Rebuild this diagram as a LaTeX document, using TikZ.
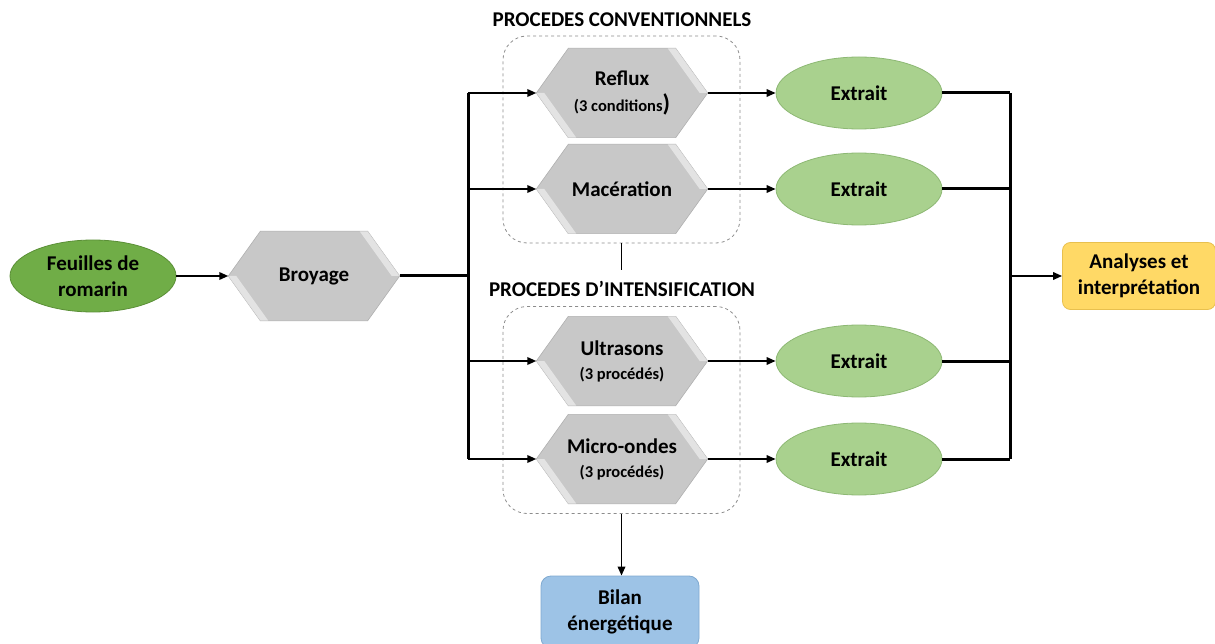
\documentclass[tikz,border=0pt]{standalone}
\usepackage{fontspec}
\setmainfont{Carlito}
\usetikzlibrary{arrows.meta,shapes.geometric,backgrounds}
\definecolor{hexgray}{HTML}{C8C8C8}
\definecolor{hexedge}{HTML}{B0B0B0}
\definecolor{leafgreen}{HTML}{70AD47}
\definecolor{leafedge}{HTML}{5A8F36}
\definecolor{extgreen}{HTML}{A9D18E}
\definecolor{extedge}{HTML}{8DB874}
\definecolor{anayellow}{HTML}{FFD966}
\definecolor{anaedge}{HTML}{E8C04E}
\definecolor{bilblue}{HTML}{9DC3E6}
\definecolor{biledge}{HTML}{7FA9D0}
\definecolor{dashgray}{HTML}{8C8C8C}
\newcommand\hexbg[1]{%
  \fill[hexgray, draw=hexedge, line width=0.6pt] (#1.west) -- ([xshift=32pt]#1.north west) -- ([xshift=-32pt]#1.north east) -- (#1.east) -- ([xshift=-32pt]#1.south east) -- ([xshift=32pt]#1.south west) -- cycle;
  \fill[white, opacity=0.5] ([xshift=-32pt]#1.north east) -- (#1.east) -- ([xshift=-8pt]#1.east) -- ([xshift=-40pt]#1.north east) -- cycle;
  \fill[white, opacity=0.5] ([xshift=32pt]#1.south west) -- (#1.west) -- ([xshift=8pt]#1.west) -- ([xshift=40pt]#1.south west) -- cycle;}
\begin{document}
\begin{tikzpicture}[x=1pt,y=-1pt,
  txt/.style={font=\bfseries\fontsize{21}{26}\selectfont, align=center, inner sep=0pt, text=black},
  hexnode/.style={txt, minimum width=171pt, minimum height=89pt},
  leaf/.style={txt, ellipse, fill=leafgreen, draw=leafedge, line width=0.8pt, minimum width=166pt, minimum height=72pt},
  extr/.style={txt, ellipse, fill=extgreen, draw=extedge, line width=0.8pt, minimum width=166pt, minimum height=72pt},
  anabox/.style={txt, rounded corners=8pt, fill=anayellow, draw=anaedge, line width=0.8pt, minimum width=153pt, minimum height=67pt},
  bilbox/.style={txt, rounded corners=10pt, fill=bilblue, draw=biledge, line width=0.8pt, minimum width=158pt, minimum height=72pt},
  groupbox/.style={draw=dashgray, dashed, line width=0.8pt, rounded corners=24pt, minimum width=237pt, minimum height=207pt, inner sep=0pt},
  title/.style={txt},
  arr/.style={line width=1.8pt, -{Triangle[length=9pt,width=7.5pt]}},
  trunk/.style={line width=3pt}
]
\useasboundingbox (0,0) rectangle (1215,644);

% group boxes
\node[groupbox] (box1) at (621.5,139.5) {};
\node[groupbox] (box2) at (621.5,410) {};
\node[title] (t1) at (622,20) {PROCEDES CONVENTIONNELS};
\node[title] (t2) at (622,289) {PROCEDES D’INTENSIFICATION};

% nodes
\node[leaf] (feu) at (93,276) {Feuilles de\\romarin};
\node[hexnode] (broy) at (314,276) {Broyage};
\node[hexnode] (reflux) at (622,93) {Reflux\\[0pt]{\fontsize{16.5}{18}\selectfont (3 conditions}{\fontsize{24}{22}\selectfont )}};
\node[hexnode] (mac) at (622,189) {Macération};
\node[hexnode] (ultra) at (622,361) {Ultrasons\\[-2pt]{\fontsize{16.5}{18}\selectfont (3 procédés)}};
\node[hexnode] (micro) at (622,459) {Micro-ondes\\[-2pt]{\fontsize{16.5}{18}\selectfont (3 procédés)}};
\node[extr] (e1) at (859,93) {Extrait};
\node[extr] (e2) at (859,189) {Extrait};
\node[extr] (e3) at (859,361) {Extrait};
\node[extr] (e4) at (859,459) {Extrait};
\node[anabox] (ana) at (1139,276) {Analyses et\\interprétation};
\node[bilbox] (bil) at (620,612) {Bilan\\énergétique};

\begin{pgfonlayer}{background}
\hexbg{broy}
\hexbg{reflux}
\hexbg{mac}
\hexbg{ultra}
\hexbg{micro}
\end{pgfonlayer}

\coordinate (jl) at (468,276);
\coordinate (jr) at (1010,276);
\coordinate (stub) at (621.5,270);

% connectors
\draw[arr] (feu.east) -- (broy.west);
\draw[trunk] (broy.east) -- (jl);
\draw[trunk] (reflux.west -| jl) -- (micro.west -| jl);
\foreach \n in {reflux,mac,ultra,micro} {
  \draw[arr] (\n.west -| jl) -- (\n.west);
}
\draw[arr] (reflux.east) -- (e1.west);
\draw[arr] (mac.east) -- (e2.west);
\draw[arr] (ultra.east) -- (e3.west);
\draw[arr] (micro.east) -- (e4.west);
\foreach \n in {e1,e2,e3,e4} {
  \draw[trunk] (\n.east) -- (\n.east -| jr);
}
\draw[trunk] (e1.east -| jr) -- (e4.east -| jr);
\draw[arr] (jr) -- (ana.west);
\draw[line width=1.8pt] (box1.south) -- (stub);
\draw[arr] (box2.south) -- (box2.south |- bil.north);
\end{tikzpicture}
\end{document}
